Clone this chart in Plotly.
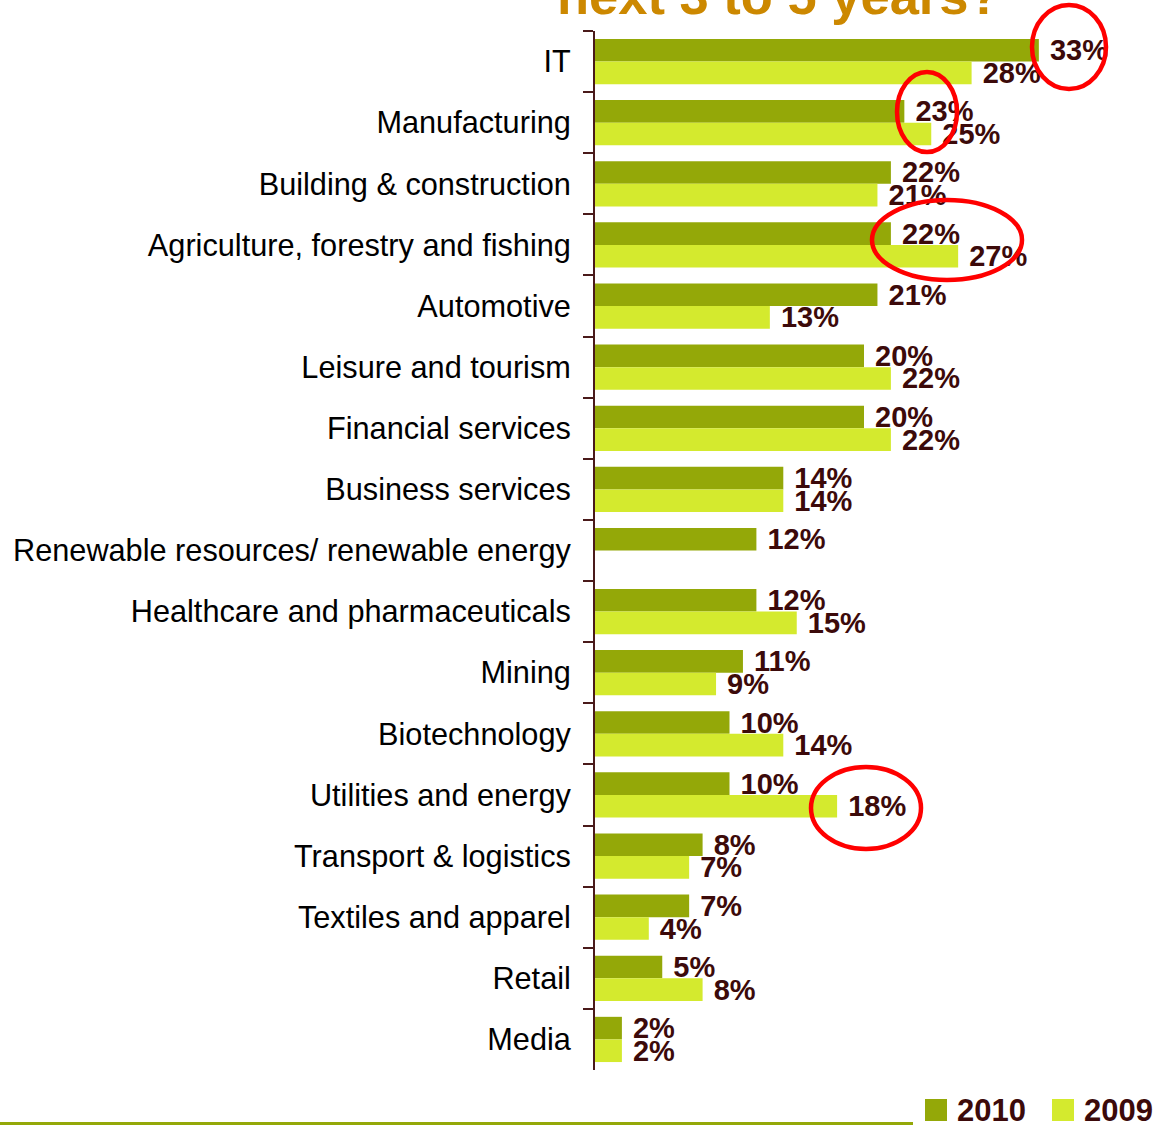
import plotly.graph_objects as go

# Survey results: sectors expected to grow over the next 3 to 5 years
sectors = [
    "IT",
    "Manufacturing",
    "Building & construction",
    "Agriculture, forestry and fishing",
    "Automotive",
    "Leisure and tourism",
    "Financial services",
    "Business services",
    "Renewable resources/ renewable energy",
    "Healthcare and pharmaceuticals",
    "Mining",
    "Biotechnology",
    "Utilities and energy",
    "Transport & logistics",
    "Textiles and apparel",
    "Retail",
    "Media",
]
share_2010 = [33, 23, 22, 22, 21, 20, 20, 14, 12, 12, 11, 10, 10, 8, 7, 5, 2]
share_2009 = [28, 25, 21, 27, 13, 22, 22, 14, None, 15, 9, 14, 18, 7, 4, 8, 2]

# Page geometry (pixels)
W, H = 1154, 1125
ML, MR, MT, MB = 595, 0, 31, 55
PW, PH = W - ML - MR, H - MT - MB

COL_2010 = "#94A808"
COL_2009 = "#D4EA2E"
LABEL_COL = "#3C0A0A"
AXIS_COL = "#4A1A1A"
FONT = "Liberation Sans, Arial, sans-serif"


def px_x(px):
    return (px - ML) / PW


def px_y(py):
    return (H - MB - py) / PH


def pct(v):
    return [None if x is None else f" {x}%" for x in v]


fig = go.Figure()
fig.add_trace(go.Bar(
    name="2010", y=sectors, x=share_2010, orientation="h",
    marker=dict(color=COL_2010, line=dict(width=0)),
    text=pct(share_2010), textposition="outside",
    textfont=dict(family=FONT, size=29, color=LABEL_COL, weight="bold"),
    constraintext="none", cliponaxis=False,
))
fig.add_trace(go.Bar(
    name="2009", y=sectors, x=share_2009, orientation="h",
    marker=dict(color=COL_2009, line=dict(width=0)),
    text=pct(share_2009), textposition="outside",
    textfont=dict(family=FONT, size=29, color=LABEL_COL, weight="bold"),
    constraintext="none", cliponaxis=False,
))

shapes = []
annotations = []

# Red highlight rings around notable changes (centre x, centre y, rx, ry)
rings = [(1069, 47, 37, 42), (927, 112, 30, 40), (947, 240, 75, 40), (866, 808, 55, 41)]
for cx, cy, rx, ry in rings:
    shapes.append(dict(
        type="circle", xref="paper", yref="paper",
        x0=px_x(cx - rx), x1=px_x(cx + rx), y0=px_y(cy + ry), y1=px_y(cy - ry),
        line=dict(color="#FF0000", width=4.5), fillcolor="rgba(0,0,0,0)", layer="above",
    ))

# Footer rule
shapes.append(dict(
    type="line", xref="paper", yref="paper",
    x0=px_x(0), x1=px_x(913), y0=px_y(1123.5), y1=px_y(1123.5),
    line=dict(color=COL_2010, width=3),
))

# Legend swatches and labels
for x0, col, label in [(925, COL_2010, "2010"), (1052, COL_2009, "2009")]:
    shapes.append(dict(
        type="rect", xref="paper", yref="paper",
        x0=px_x(x0), x1=px_x(x0 + 22), y0=px_y(1121), y1=px_y(1099),
        fillcolor=col, line=dict(width=0),
    ))
    annotations.append(dict(
        text=label, xref="paper", yref="paper", x=px_x(x0 + 30), y=px_y(1110),
        xanchor="left", yanchor="middle", showarrow=False,
        font=dict(family=FONT, size=31, color=LABEL_COL, weight="bold"),
    ))

# Title (last line visible at top edge)
annotations.append(dict(
    text="next 3 to 5 years?", xref="paper", yref="paper",
    x=px_x(555), y=px_y(27), xanchor="left", yanchor="bottom", showarrow=False,
    font=dict(family=FONT, size=52.5, color="#CC8800", weight="bold"),
))

fig.update_layout(
    width=W, height=H,
    margin=dict(l=ML, r=MR, t=MT, b=MB, pad=0),
    paper_bgcolor="white", plot_bgcolor="white",
    barmode="group", bargap=0.26, bargroupgap=0,
    showlegend=False,
    shapes=shapes, annotations=annotations,
    xaxis=dict(range=[0, PW / 13.45], visible=False, fixedrange=True),
    yaxis=dict(
        autorange="reversed", tickson="boundaries", ticks="outside",
        ticklen=10, tickwidth=2, tickcolor=AXIS_COL,
        showline=True, linecolor=AXIS_COL, linewidth=2,
        showgrid=False, ticklabelstandoff=16,
        tickfont=dict(family=FONT, size=30.7, color="#000000"),
    ),
)

fig.write_html("out.html")
